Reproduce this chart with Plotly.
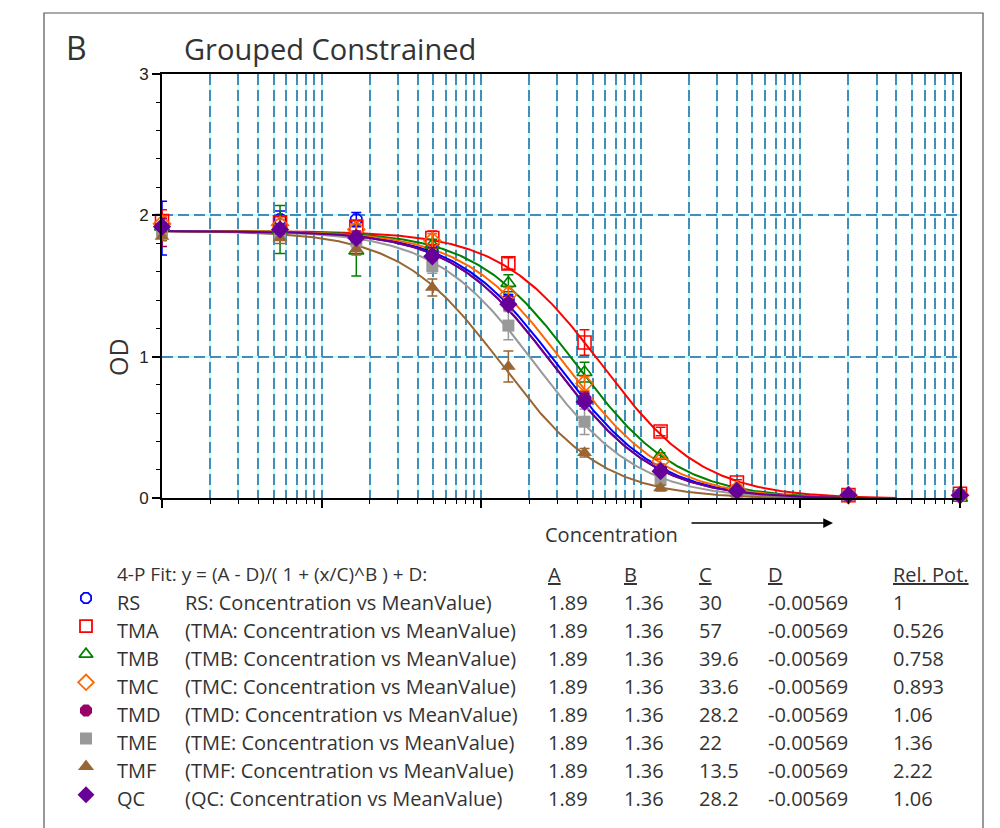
import numpy as np
import plotly.graph_objects as go

# ---------------- data ----------------
concentration = [0.1, 0.549, 1.65, 4.94, 14.8, 44.4, 133, 400, 2000, 10000]
series = ["RS", "TMA", "TMB", "TMC", "TMD", "TME", "TMF", "QC"]

mean_RS = [1.91, 1.97, 1.97, 1.74, 1.40, 0.70, 0.20, 0.05, 0.02, 0.02]
mean_TMA = [1.96, 1.95, 1.92, 1.84, 1.66, 1.10, 0.47, 0.11, 0.02, 0.03]
mean_TMB = [1.92, 1.90, 1.75, 1.79, 1.52, 0.89, 0.30, 0.07, 0.02, 0.00]
mean_TMC = [1.94, 1.93, 1.90, 1.82, 1.44, 0.81, 0.26, 0.06, 0.02, 0.02]
mean_TMD = [1.88, 1.90, 1.85, 1.72, 1.38, 0.70, 0.19, 0.05, 0.02, 0.02]
mean_TME = [1.89, 1.88, 1.82, 1.64, 1.22, 0.54, 0.13, 0.04, 0.02, 0.02]
mean_TMF = [1.85, 1.84, 1.76, 1.49, 0.93, 0.32, 0.07, 0.03, 0.02, 0.02]
mean_QC = [1.92, 1.90, 1.84, 1.71, 1.37, 0.68, 0.19, 0.05, 0.02, 0.02]

err_RS = [0.19, 0.06, 0.05, 0.04, 0.04, 0.04, 0.02, 0.01, 0.01, 0.01]
err_TMA = [0.08, 0.04, 0.04, 0.05, 0.04, 0.09, 0.03, 0.02, 0.01, 0.01]
err_TMB = [0.05, 0.17, 0.18, 0.04, 0.06, 0.07, 0.02, 0.01, 0.01, 0.01]
err_TMC = [0.05, 0.04, 0.04, 0.05, 0.05, 0.05, 0.02, 0.01, 0.01, 0.01]
err_TMD = [0.10, 0.04, 0.04, 0.05, 0.05, 0.05, 0.02, 0.01, 0.01, 0.01]
err_TME = [0.04, 0.05, 0.05, 0.05, 0.10, 0.09, 0.02, 0.01, 0.01, 0.01]
err_TMF = [0.03, 0.04, 0.04, 0.06, 0.11, 0.03, 0.02, 0.01, 0.01, 0.01]
err_QC = [0.03, 0.03, 0.03, 0.03, 0.03, 0.03, 0.02, 0.01, 0.01, 0.01]

# 4-P fit parameters (table)
fit_A = [1.89, 1.89, 1.89, 1.89, 1.89, 1.89, 1.89, 1.89]
fit_B = [1.36, 1.36, 1.36, 1.36, 1.36, 1.36, 1.36, 1.36]
fit_C = [30, 57, 39.6, 33.6, 28.2, 22, 13.5, 28.2]
fit_D = [-0.00569, -0.00569, -0.00569, -0.00569, -0.00569, -0.00569, -0.00569, -0.00569]
rel_pot = [1, 0.526, 0.758, 0.893, 1.06, 1.36, 2.22, 1.06]
descriptions = [
    "RS: Concentration vs MeanValue)",
    "(TMA: Concentration vs MeanValue)",
    "(TMB: Concentration vs MeanValue)",
    "(TMC: Concentration vs MeanValue)",
    "(TMD: Concentration vs MeanValue)",
    "(TME: Concentration vs MeanValue)",
    "(TMF: Concentration vs MeanValue)",
    "(QC: Concentration vs MeanValue)",
]
curve_min, curve_max = 0.1, 4000

means = [mean_RS, mean_TMA, mean_TMB, mean_TMC, mean_TMD, mean_TME, mean_TMF, mean_QC]
errs = [err_RS, err_TMA, err_TMB, err_TMC, err_TMD, err_TME, err_TMF, err_QC]

# ---------------- styles ----------------
colors = ["#0000ff", "#ff0000", "#008000", "#ff6600", "#990066", "#999999", "#996633", "#660099"]
symbols = ["octagon-open", "square-open", "triangle-up-open", "diamond-open",
           "octagon", "square", "triangle-up", "diamond"]
sizes = [12, 13, 13, 13, 13, 12, 13, 14]
leg_sizes = [11, 12, 12, 12, 13, 12, 14, 13]
CYAN = "#c4fbff"
DASHBLUE = "#3f8fb8"
TXT = "#333333"
FONT = "Open Sans"
W, H = 1000, 828


def px(x):
    return x / W


def py(y):
    return 1 - y / H


fig = go.Figure()

# fitted curves
xc = np.logspace(np.log10(curve_min), np.log10(curve_max), 400)
for i, name in enumerate(series):
    yc = (fit_A[i] - fit_D[i]) / (1 + (xc / fit_C[i]) ** fit_B[i]) + fit_D[i]
    fig.add_trace(go.Scatter(x=xc, y=yc, mode="lines",
                             line=dict(color=colors[i], width=2),
                             showlegend=False, hoverinfo="skip"))

# data points with error bars
for i, name in enumerate(series):
    open_sym = symbols[i].endswith("open")
    fig.add_trace(go.Scatter(
        x=concentration, y=means[i], mode="markers", name=name,
        marker=dict(symbol=symbols[i], size=sizes[i], color=colors[i],
                    line=dict(width=1.6 if open_sym else 0, color=colors[i])),
        error_y=dict(type="data", array=errs[i], color=colors[i], thickness=1.5, width=5),
        cliponaxis=False, showlegend=False))

# dummy trace for dashed-grid overlay axes
fig.add_trace(go.Scatter(x=[1], y=[-10], xaxis="x3", yaxis="y3", mode="markers",
                         marker=dict(size=1, color="rgba(0,0,0,0)"),
                         showlegend=False, hoverinfo="skip"))

# legend symbols drawn in a full-figure pixel axis
leg_y = [598 + 28.1 * i for i in range(len(series))]
for i, name in enumerate(series):
    open_sym = symbols[i].endswith("open")
    fig.add_trace(go.Scatter(
        x=[86], y=[leg_y[i]], xaxis="x2", yaxis="y2", mode="markers",
        marker=dict(symbol=symbols[i], size=leg_sizes[i], color=colors[i],
                    line=dict(width=1.8 if open_sym else 0, color=colors[i])),
        showlegend=False, hoverinfo="skip", cliponaxis=False))

dom_x = [162 / W, 960 / W]
dom_y = [(H - 498) / H, (H - 74) / H]
grid_dash = "11px,5px"

fig.update_layout(
    width=W, height=H,
    margin=dict(l=0, r=0, t=0, b=0, pad=0, autoexpand=False),
    paper_bgcolor="white", plot_bgcolor="rgba(0,0,0,0)",
    showlegend=False,
    font=dict(family=FONT, color=TXT),
    xaxis=dict(domain=dom_x, type="log", range=[-1, 4], dtick=1, anchor="y", automargin=False,
               showgrid=True, gridcolor=CYAN, gridwidth=1.5,
               ticks="outside", ticklen=8, tickwidth=1.5, tickcolor="black",
               showticklabels=False, showline=True, linecolor="black", linewidth=2,
               mirror=True, zeroline=False,
               minor=dict(dtick="D1", ticks="outside", ticklen=4, tickwidth=1,
                          tickcolor="black", showgrid=True, gridcolor=CYAN, gridwidth=1.5)),
    yaxis=dict(domain=dom_y, range=[0, 3], dtick=1, anchor="x", automargin=False,
               showgrid=True, gridcolor=CYAN, gridwidth=1.5,
               ticks="outside", ticklen=8, tickwidth=1.5, tickcolor="black",
               tickfont=dict(family="Liberation Sans, Arial", size=17, color="#222"),
               showline=True, linecolor="black", linewidth=2, mirror=True, zeroline=False,
               minor=dict(dtick=0.2, ticks="outside", ticklen=4, tickwidth=1,
                          tickcolor="black", showgrid=False)),
    xaxis3=dict(overlaying="x", type="log", range=[-1, 4], dtick=1, anchor="y3", automargin=False,
                showgrid=True, gridcolor=DASHBLUE, gridwidth=1.5, griddash=grid_dash,
                showticklabels=False, ticks="", showline=False, zeroline=False, side="top",
                minor=dict(dtick="D1", showgrid=True, gridcolor=DASHBLUE, gridwidth=1.5,
                           griddash=grid_dash, ticks="")),
    yaxis3=dict(overlaying="y", range=[0, 3], dtick=1, anchor="x3", automargin=False,
                showgrid=True, gridcolor=DASHBLUE, gridwidth=1.5, griddash=grid_dash,
                showticklabels=False, ticks="", showline=False, zeroline=False, side="right"),
    xaxis2=dict(domain=[0, 1], range=[0, W], visible=False, anchor="y2", fixedrange=True,
                automargin=False),
    yaxis2=dict(domain=[0, 1], range=[H, 0], visible=False, anchor="x2", fixedrange=True,
                automargin=False),
)

# outer frame
fig.add_shape(type="rect", xref="paper", yref="paper",
              x0=px(44), x1=px(983), y0=py(H + 20), y1=py(13),
              line=dict(color="#555555", width=1.2), layer="below")

ann = []


def text(x, y, s, size, anchor="left", angle=0, color=TXT, family=FONT):
    ann.append(dict(x=px(x), y=py(y), xref="paper", yref="paper", text=s,
                    showarrow=False, xanchor=anchor, yanchor="middle",
                    textangle=angle, font=dict(size=size, color=color, family=family)))


text(76, 47, "B", 32, anchor="center")
text(182, 48, "Grouped Constrained", 29)
text(118, 357, "OD", 25, anchor="center", angle=-90)
text(611, 534, "Concentration", 20, anchor="center")

# arrow
ann.append(dict(x=px(833), y=py(523), xref="paper", yref="paper", ax=-143, ay=0,
                text="", showarrow=True, arrowhead=2, arrowsize=1.3, arrowwidth=1.5,
                arrowcolor="black"))

# legend table
fs = 20
row0 = 574
col_name, col_desc, col_A, col_B, col_C, col_D, col_R = 115, 183, 546, 622, 697, 766, 891
text(col_name, row0, "4-P Fit: y = (A - D)/( 1 + (x/C)^B ) + D:", 19)
text(col_A, row0, "<u>A</u>", fs)
text(col_B, row0, "<u>B</u>", fs)
text(col_C, row0, "<u>C</u>", fs)
text(col_D, row0, "<u>D</u>", fs)
text(col_R, row0, "<u>Rel. Pot.</u>", fs)
for i, name in enumerate(series):
    yy = 602 + 28.1 * i
    text(col_name, yy, name, fs)
    text(col_desc, yy, descriptions[i], fs)
    text(col_A, yy, f"{fit_A[i]:g}", fs)
    text(col_B, yy, f"{fit_B[i]:g}", fs)
    text(col_C, yy, f"{fit_C[i]:g}", fs)
    text(col_D, yy, f"{fit_D[i]:g}", fs)
    text(col_R, yy, f"{rel_pot[i]:g}", fs)

fig.update_layout(annotations=ann)
fig.write_html("out.html", config={"displayModeBar": False},
               post_script="document.body.style.margin='0px';document.body.style.padding='0px';")
